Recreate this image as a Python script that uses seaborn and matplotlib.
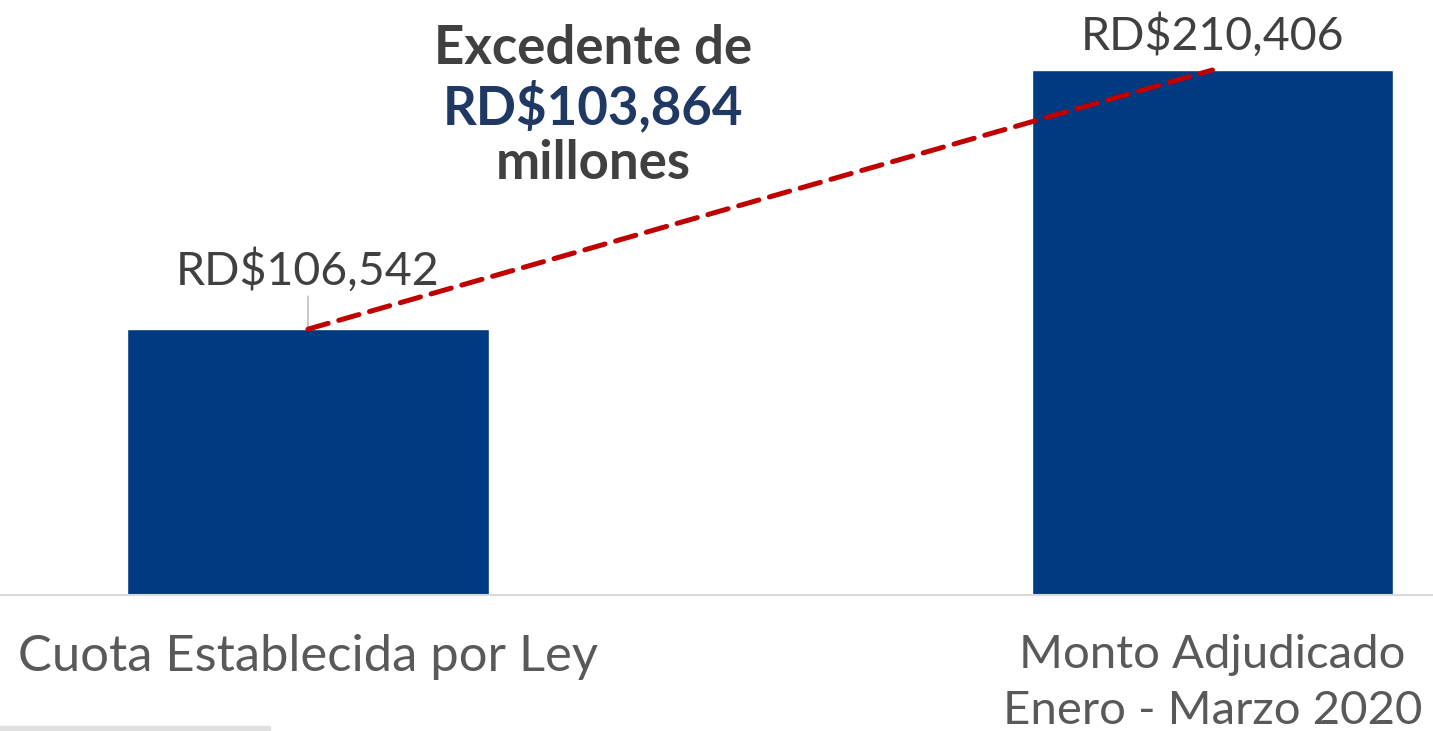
import matplotlib
matplotlib.use("Agg")
import matplotlib.pyplot as plt
import seaborn as sns
import pandas as pd

## Data
categorias = ["Cuota Establecida por Ley", "Monto Adjudicado\nEnero - Marzo 2020"]
montos = [106542, 210406]
etiquetas = ["RD$106,542", "RD$210,406"]
excedente = "RD$103,864"

df = pd.DataFrame({"categoria": categorias, "monto": montos})

sns.set_theme(style="white")
plt.rcParams["font.family"] = ["Lato", "DejaVu Sans"]

fig = plt.figure(figsize=(14.33, 7.31), dpi=100)
ax = fig.add_axes([0, 136 / 731, 1, 595 / 731])

# bars
sns.barplot(data=df, x="categoria", y="monto", color="#003A80", width=0.4,
            saturation=1, ax=ax)

ax.set_xlim(-0.3405, 1.2438)
ax.set_ylim(0, 238460)

# red dashed line between bar tops
ax.plot([0, 1], montos, color="#C00000", lw=3.6, dashes=(4.2, 2.2),
        dash_capstyle="round", zorder=5)

# value labels
ax.annotate(etiquetas[0], xy=(0, montos[0]), xytext=(0, montos[0] + 14500),
            ha="center", va="bottom", fontsize=33.5, color="#404040",
            arrowprops=dict(arrowstyle="-", color="#BFBFBF", lw=1.2,
                            shrinkA=0, shrinkB=0))
ax.text(1, montos[1] + 5000, etiquetas[1], ha="center", va="bottom",
        fontsize=33.5, color="#404040")

# excedente annotation
ax.text(0.414, 0.918, "Excedente de", transform=ax.transAxes,
        ha="center", va="center", fontsize=38, fontweight="bold", color="#404040")
ax.text(0.414, 0.821, excedente, transform=ax.transAxes,
        ha="center", va="center", fontsize=38, fontweight="bold", color="#1F3864")
ax.text(0.414, 0.726, "millones", transform=ax.transAxes,
        ha="center", va="center", fontsize=38, fontweight="bold", color="#404040")

# axes styling
for s in ["top", "right", "left"]:
    ax.spines[s].set_visible(False)
ax.spines["bottom"].set_color("#D9D9D9")
ax.spines["bottom"].set_linewidth(1.5)
ax.set_yticks([])
ax.set_xlabel("")
ax.set_ylabel("")
ax.tick_params(axis="x", length=0, pad=28, labelsize=36.5, labelcolor="#595959")
ticklbls = ax.get_xticklabels()
ticklbls[1].set_fontsize(34)
ticklbls[1].set_linespacing(1.42)

# thin grey strip at bottom left
fig.patches.append(plt.Rectangle((0, 0), 270 / 1433, 5 / 731, transform=fig.transFigure,
                                 color="#E0E0E0", zorder=0))

fig.savefig("out.png", dpi=100, facecolor="white")
